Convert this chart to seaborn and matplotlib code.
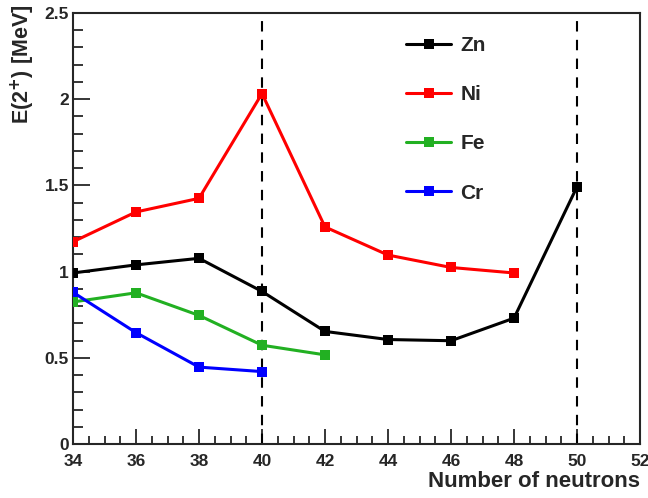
import matplotlib
matplotlib.use("Agg")
import matplotlib.pyplot as plt
import seaborn as sns
import pandas as pd
from matplotlib.ticker import MultipleLocator

zn_n = [34, 36, 38, 40, 42, 44, 46, 48, 50]
zn_e = [0.992, 1.039, 1.077, 0.885, 0.653, 0.606, 0.599, 0.730, 1.492]
ni_n = [34, 36, 38, 40, 42, 44, 46, 48]
ni_e = [1.173, 1.346, 1.425, 2.033, 1.259, 1.096, 1.024, 0.992]
fe_n = [34, 36, 38, 40, 42]
fe_e = [0.824, 0.877, 0.746, 0.573, 0.517]
cr_n = [34, 36, 38, 40]
cr_e = [0.880, 0.646, 0.446, 0.420]
elements = ["Zn", "Ni", "Fe", "Cr"]
colors = ["#000000", "#ff0000", "#22b022", "#0000ff"]
shell_lines = [40, 50]
x_ticks = [34, 36, 38, 40, 42, 44, 46, 48, 50, 52]
y_ticks = [0, 0.5, 1, 1.5, 2, 2.5]
y_tick_labels = ["0", "0.5", "1", "1.5", "2", "2.5"]

frames = []
for name, n, e in zip(elements, [zn_n, ni_n, fe_n, cr_n], [zn_e, ni_e, fe_e, cr_e]):
    frames.append(pd.DataFrame({"N": n, "E": e, "element": name}))
df = pd.concat(frames, ignore_index=True)

sns.set_style("ticks")
plt.rcParams["font.family"] = ["Liberation Sans", "DejaVu Sans"]
plt.rcParams["font.weight"] = "bold"

fig = plt.figure(figsize=(6.48, 4.98), dpi=100)
ax = fig.add_axes([73/648, 54/498, 567/648, 431/498])

for x in shell_lines:
    ax.axvline(x, color="black", lw=1.5, ls=(0, (5, 4)), zorder=1)

sns.lineplot(data=df, x="N", y="E", hue="element", hue_order=elements,
             palette=dict(zip(elements, colors)), style="element",
             markers={k: "s" for k in elements}, dashes=False,
             markersize=7, markeredgewidth=0, linewidth=2.2, ax=ax, zorder=3)

ax.set_xlim(34, 52)
ax.set_ylim(0, 2.5)
ax.set_xticks(x_ticks)
ax.set_xticklabels([str(t) for t in x_ticks], fontsize=12.5, fontweight="bold")
ax.set_yticks(y_ticks)
ax.set_yticklabels(y_tick_labels, fontsize=12.5, fontweight="bold")
ax.xaxis.set_minor_locator(MultipleLocator(0.5))
ax.yaxis.set_minor_locator(MultipleLocator(0.1))
ax.tick_params(which="both", direction="in", top=False, right=False, width=1.3)
ax.tick_params(axis="y", which="major", length=12, pad=3)
ax.tick_params(axis="y", which="minor", length=7)
ax.tick_params(axis="x", which="major", length=11, pad=7)
ax.tick_params(axis="x", which="minor", length=6)
for sp in ax.spines.values():
    sp.set_linewidth(1.5)

ax.set_xlabel("Number of neutrons", fontsize=16, fontweight="bold", ha="right")
ax.xaxis.set_label_coords(1.0, -0.063)
ax.set_ylabel("E(2$^{+}$) [MeV]", fontsize=15.5, fontweight="bold", ha="right")
ax.yaxis.set_label_coords(-0.064, 1.02)

handles, labels = ax.get_legend_handles_labels()
ax.legend(handles, labels, loc="upper left", bbox_to_anchor=(0.555, 0.99),
          frameon=False, labelspacing=1.45, handlelength=2.15,
          handletextpad=0.45, prop={"weight": "bold", "size": 15})

fig.savefig("out.png", dpi=100)
